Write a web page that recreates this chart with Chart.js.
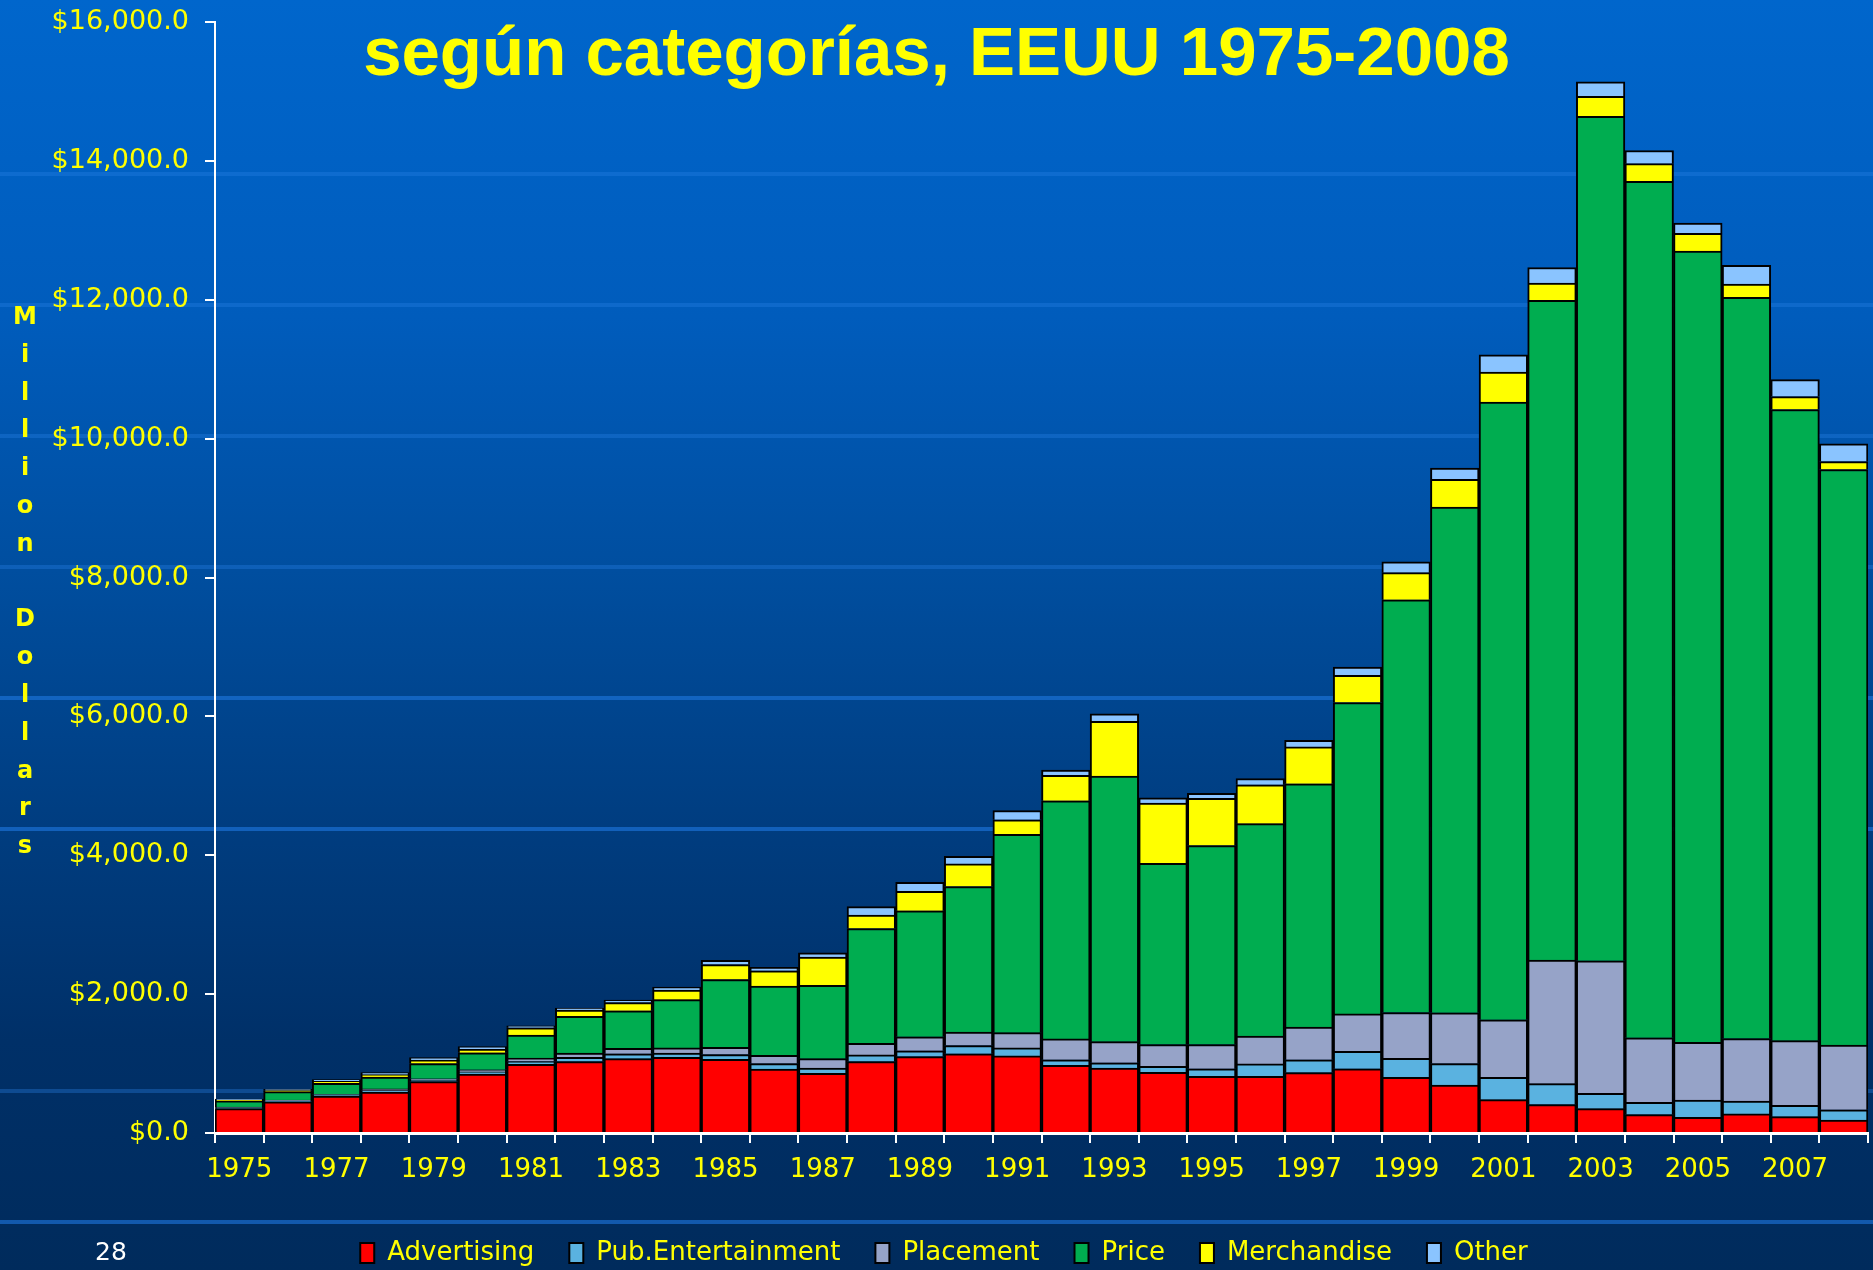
<!DOCTYPE html>
<html>
<head>
<meta charset="utf-8">
<script src="https://cdn.jsdelivr.net/npm/chart.js@4.4.1/dist/chart.umd.min.js"></script>
<style>
  body { margin: 0; background: #002a5a; }
  #slide {
    position: relative; width: 1873px; height: 1270px; overflow: hidden;
    background: linear-gradient(to bottom, #0066cc 0%, #005cbc 25%, #004e9f 45%, #003d80 65%, #003068 82%, #002b5c 100%);
  }
  .hline { position: absolute; left: 0; width: 1873px; height: 4px; background: rgba(40, 130, 230, 0.35); }
  .hline.strong { background: rgba(30, 120, 225, 0.6); }
  #chart { position: absolute; left: 0; top: 0; z-index: 1; }
  #title {
    position: absolute; left: 0; top: 12px; width: 1873px; text-align: center; z-index: 2;
    font-family: "Liberation Sans", Arial, sans-serif; font-weight: bold; font-size: 69px;
    color: #ffff00; white-space: nowrap;
  }
  #ytitle {
    position: absolute; left: 9px; top: 298px; width: 32px; z-index: 2; text-align: center;
    font-family: "DejaVu Sans", sans-serif; font-weight: bold; font-size: 24px; line-height: 37.8px;
    color: #ffff00;
  }
  #pagenum {
    position: absolute; left: 95px; top: 1237px; z-index: 2;
    font-family: "DejaVu Sans", sans-serif; font-size: 25px; color: #ffffff;
  }
</style>
</head>
<body>
<div id="slide">
  <div class="hline" style="top:172px"></div>
  <div class="hline" style="top:303px"></div>
  <div class="hline" style="top:434px"></div>
  <div class="hline" style="top:565px"></div>
  <div class="hline strong" style="top:696px"></div>
  <div class="hline strong" style="top:827px"></div>
  <div class="hline" style="top:1089px"></div>
  <div class="hline strong" style="top:1220px"></div>
  <canvas id="chart" width="1873" height="1270"></canvas>
  <div id="title">según categorías, EEUU 1975-2008</div>
  <div id="ytitle">M<br>i<br>l<br>l<br>i<br>o<br>n<br>&nbsp;<br>D<br>o<br>l<br>l<br>a<br>r<br>s</div>
  <div id="pagenum">28</div>
</div>
<script>
var years = ["1975", "1976", "1977", "1978", "1979", "1980", "1981", "1982", "1983", "1984",
    "1985", "1986", "1987", "1988", "1989", "1990", "1991", "1992", "1993", "1994",
    "1995", "1996", "1997", "1998", "1999", "2000", "2001", "2002", "2003", "2004",
    "2005", "2006", "2007", "2008"];

// millones de dolares por categoria
var advertising = [350, 450, 530, 590, 740, 850, 990, 1030, 1070, 1090,
    1060, 920, 860, 1030, 1100, 1140, 1110, 975, 935, 875,
    815, 815, 870, 925, 800, 690, 480, 410, 350, 265,
    225, 275, 235, 185];
var pubEntertainment = [15, 15, 15, 20, 20, 30, 40, 60, 70, 60,
    70, 80, 75, 95, 85, 120, 115, 80, 75, 85,
    110, 180, 185, 250, 275, 310, 320, 300, 220, 175,
    250, 185, 165, 150];
var placement = [10, 10, 10, 25, 20, 30, 50, 60, 80, 75,
    105, 120, 135, 165, 200, 195, 220, 300, 305, 315,
    350, 400, 470, 540, 660, 730, 830, 1780, 1910, 930,
    830, 900, 930, 930];
var price = [90, 120, 160, 170, 220, 245, 330, 530, 540, 695,
    975, 995, 1055, 1655, 1815, 2095, 2855, 3430, 3825, 2610,
    2865, 3060, 3505, 4485, 5945, 7285, 8895, 9500, 12160, 12335,
    11395, 10675, 9090, 8290];
var merchandise = [10, 15, 30, 35, 50, 50, 105, 90, 120, 140,
    215, 220, 410, 195, 280, 325, 210, 365, 790, 865,
    680, 560, 530, 390, 390, 400, 435, 250, 290, 255,
    255, 190, 185, 115];
var other = [15, 20, 25, 30, 35, 40, 30, 30, 35, 40,
    60, 50, 60, 120, 130, 110, 135, 77, 105, 77,
    72, 90, 95, 120, 155, 160, 245, 225, 210, 190,
    150, 270, 245, 255];

var yTicks = [0, 2000, 4000, 6000, 8000, 10000, 12000, 14000, 16000];

function serie(label, data, color){
    return {
        label: label,
        data: data,
        backgroundColor: color,
        borderColor: "#000000",
        borderWidth: 2,
        categoryPercentage: 1.0,
        barPercentage: 1.0
    };
}

var ctx = document.getElementById("chart");
var chart = new Chart(ctx, {
    type: "bar",
    data: {
        labels: years,
        datasets: [
            serie("Advertising", advertising, "#ff0000"),
            serie("Pub.Entertainment", pubEntertainment, "#5ab2e0"),
            serie("Placement", placement, "#96a3c8"),
            serie("Price", price, "#00ad50"),
            serie("Merchandise", merchandise, "#ffff00"),
            serie("Other", other, "#8ac4ff")
        ]
    },
    options: {
        responsive: false,
        animation: false,
        devicePixelRatio: 1,
        layout: { padding: { top: 22, right: 5, left: 20, bottom: -6 } },
        plugins: {
            title: { display: false },
            tooltip: { enabled: false },
            legend: {
                position: "bottom",
                labels: {
                    color: "#ffff00",
                    font: { family: "DejaVu Sans", size: 26 },
                    boxWidth: 14,
                    boxHeight: 20,
                    padding: 35
                }
            }
        },
        scales: {
            x: {
                stacked: true,
                grid: { display: true, drawOnChartArea: false, drawTicks: true, tickLength: 10, color: "#ffffff", lineWidth: 2 },
                border: { display: true, color: "#ffffff", width: 3 },
                ticks: {
                    autoSkip: false,
                    maxRotation: 0,
                    padding: 12,
                    color: "#ffff00",
                    font: { family: "DejaVu Sans", size: 26 },
                    callback: function(value, index){
                        return index % 2 === 0 ? years[index] : "";
                    }
                },
                afterFit: function(scale){ scale.height = 72; }
            },
            y: {
                stacked: true,
                min: yTicks[0],
                max: yTicks[yTicks.length - 1],
                grid: { display: true, drawOnChartArea: false, drawTicks: true, tickLength: 10, color: "#ffffff", lineWidth: 2 },
                border: { display: true, color: "#ffffff", width: 2 },
                afterBuildTicks: function(scale){
                    scale.ticks = yTicks.map(function(v){ return { value: v }; });
                },
                ticks: {
                    padding: 16,
                    color: "#ffff00",
                    font: { family: "DejaVu Sans", size: 27 },
                    callback: function(value){
                        return "$" + value.toLocaleString("en-US", { minimumFractionDigits: 1, maximumFractionDigits: 1 });
                    }
                },
                afterFit: function(scale){
                    scale.width = 195;
                    scale.paddingTop = 0;
                    scale.paddingBottom = 0;
                }
            }
        }
    }
});
</script>
</body>
</html>
